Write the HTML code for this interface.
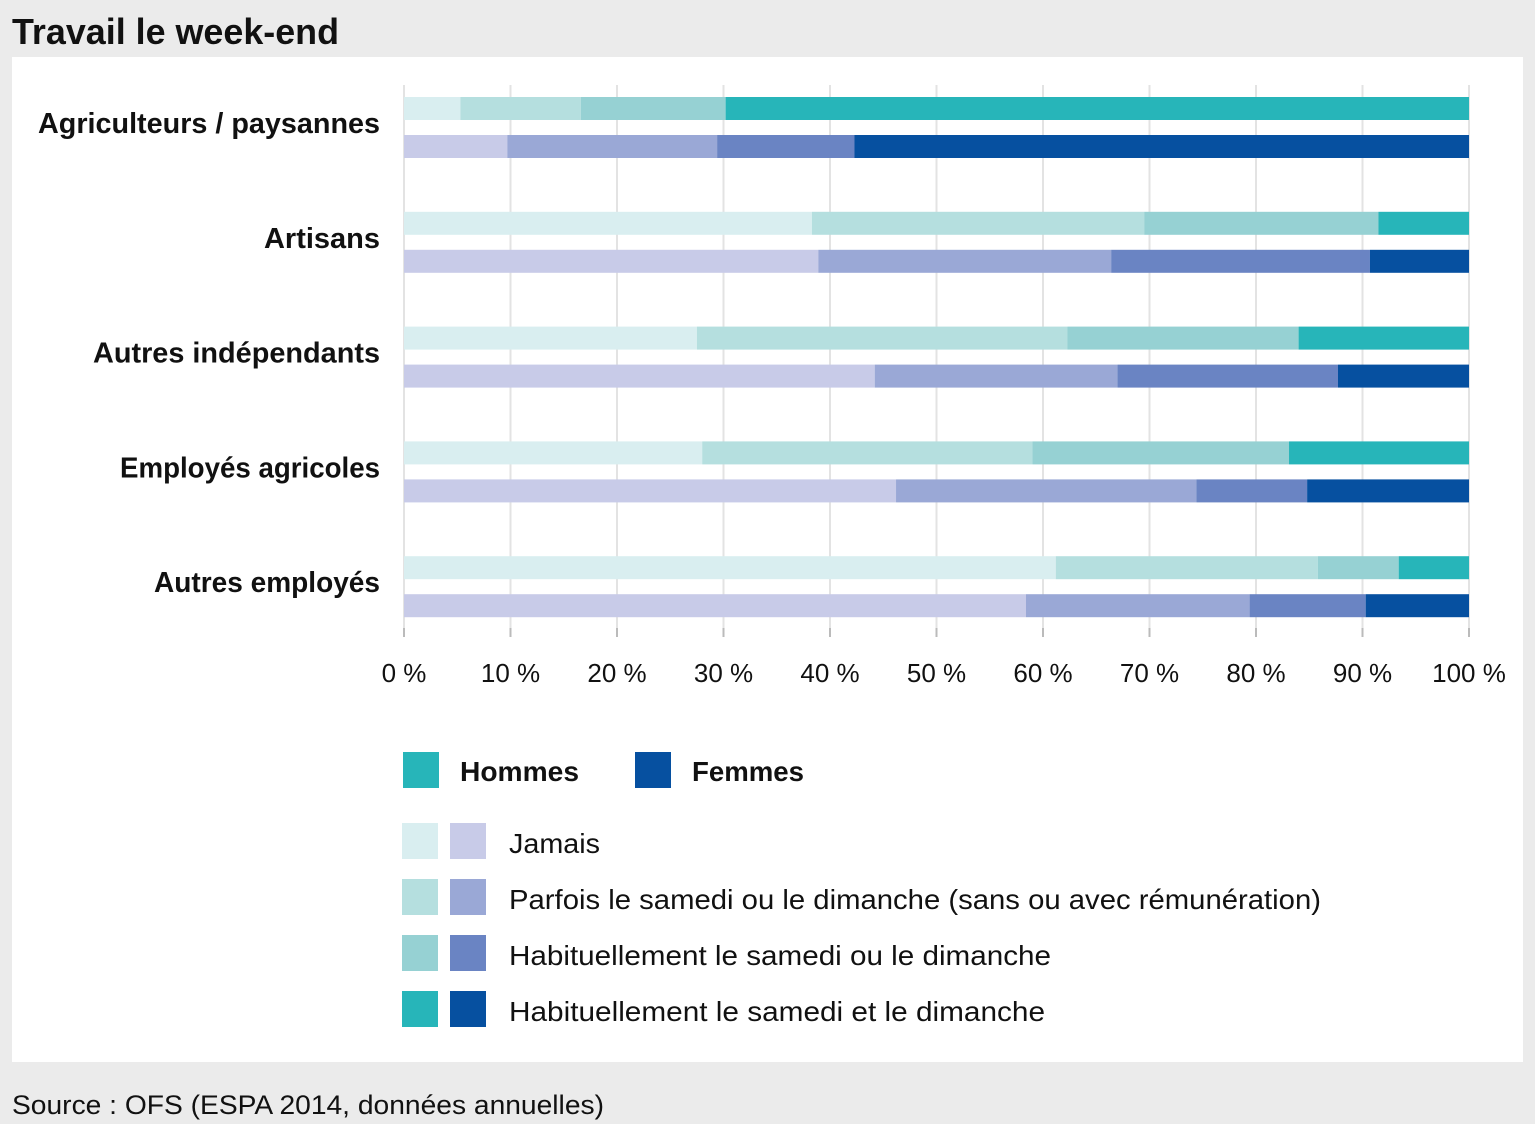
<!DOCTYPE html>
<html><head><meta charset="utf-8"><style>
body{margin:0;background:#ebebeb;width:1535px;height:1124px;overflow:hidden;font-family:"Liberation Sans",sans-serif}
svg{display:block}
</style></head><body>
<svg id="chart" width="1535" height="1124">
<rect x="0" y="0" width="1535" height="1124" fill="#ebebeb"/>
<text x="12" y="44" font-size="36" font-weight="bold" fill="#111" textLength="327" lengthAdjust="spacingAndGlyphs">Travail le week-end</text>
<rect x="12" y="57" width="1511" height="1005" fill="#fff"/>
<g id="grid"></g><g id="bars"></g><g id="labels"></g><g id="ticks"></g>
<g>
<rect x="403" y="752" width="36" height="36" fill="#27b5b9"/>
<text x="460" y="781" font-size="28" font-weight="bold" fill="#111" textLength="119" lengthAdjust="spacingAndGlyphs">Hommes</text>
<rect x="635" y="752" width="36" height="36" fill="#0650a0"/>
<text x="692" y="781" font-size="28" font-weight="bold" fill="#111" textLength="112" lengthAdjust="spacingAndGlyphs">Femmes</text>
</g>
<g id="legend2"></g>
<text x="12" y="1114" font-size="27" fill="#111" textLength="592" lengthAdjust="spacingAndGlyphs">Source : OFS (ESPA 2014, données annuelles)</text>
</svg>
<script>
const categories=["Agriculteurs / paysannes","Artisans","Autres indépendants","Employés agricoles","Autres employés"];
const menJamais=[5.3,38.3,27.5,28.0,61.2];
const menParfois=[11.3,31.2,34.8,31.0,24.6];
const menHabOu=[13.6,22.0,21.7,24.1,7.6];
const menHabEt=[69.8,8.5,16.0,16.9,6.6];
const womenJamais=[9.7,38.9,44.2,46.2,58.4];
const womenParfois=[19.7,27.5,22.8,28.2,21.0];
const womenHabOu=[12.9,24.3,20.7,10.4,10.9];
const womenHabEt=[57.7,9.3,12.3,15.2,9.7];
const tickValues=[0,10,20,30,40,50,60,70,80,90,100];
const tickLabels=["0 %","10 %","20 %","30 %","40 %","50 %","60 %","70 %","80 %","90 %","100 %"];
const legendLabels=["Jamais","Parfois le samedi ou le dimanche (sans ou avec rémunération)","Habituellement le samedi ou le dimanche","Habituellement le samedi et le dimanche"];
const menColors=["#d9eef0","#b5dfdf","#96d1d3","#27b5b9"];
const womenColors=["#c8cbe8","#9aa8d6","#6a84c3","#0650a0"];
const NS="http://www.w3.org/2000/svg";
const x=v=>404+v*10.65;
const yRow=i=>97+i*114.8;
function mk(tag,attrs,parent){const e=document.createElementNS(NS,tag);for(const k in attrs)e.setAttribute(k,attrs[k]);parent.appendChild(e);return e;}
const grid=document.getElementById('grid'),bars=document.getElementById('bars'),labels=document.getElementById('labels'),ticks=document.getElementById('ticks'),leg=document.getElementById('legend2');
tickValues.forEach((t,i)=>{
 const l=mk('line',{x1:x(t),x2:x(t),y1:85,y2:636,stroke:'#e3e3e3','stroke-width':2},grid);
 
 
 const tk=mk('line',{x1:x(t),x2:x(t),y1:628,y2:637,stroke:'#bbb','stroke-width':2},ticks);
 
 
 const tx=mk('text',{x:x(t),y:682,'font-size':26,fill:'#111','text-anchor':'middle'},ticks);
 tx.textContent=tickLabels[i];
 
 
});
const men=[menJamais,menParfois,menHabOu,menHabEt],women=[womenJamais,womenParfois,womenHabOu,womenHabEt];
categories.forEach((c,i)=>{
 [[men,menColors,0,'men'],[women,womenColors,38,'women']].forEach(([ser,cols,off,g])=>{
  let acc=0;
  ser.forEach((s,k)=>{
   const v=s[i];
   const r=mk('rect',{x:x(acc),y:yRow(i)+off,width:x(acc+v)-x(acc),height:23,fill:cols[k]},bars);
   
   
   acc+=v;
  });
 });
 const t=mk('text',{x:380,y:yRow(i)+36,'font-size':29,'font-weight':'bold',fill:'#111','text-anchor':'end'},labels);
 t.textContent=c;
 
 
});
legendLabels.forEach((l,i)=>{
 const y=823+i*56;
 const a=mk('rect',{x:402,y:y,width:36,height:36,fill:menColors[i]},leg);
 
 
 const b=mk('rect',{x:450,y:y,width:36,height:36,fill:womenColors[i]},leg);
 
 
 const t=mk('text',{x:509,y:y+30,'font-size':28,fill:'#111'},leg);
 t.textContent=l;
 
 
});
const widths=[91,812,542,536];
leg.querySelectorAll('text').forEach((t,i)=>{t.setAttribute('textLength',widths[i]);t.setAttribute('lengthAdjust','spacingAndGlyphs');});
const lw=[342,116,287,260,226];
labels.querySelectorAll('text').forEach((t,i)=>{t.setAttribute('textLength',lw[i]);t.setAttribute('lengthAdjust','spacingAndGlyphs');});
</script>
</body></html>
